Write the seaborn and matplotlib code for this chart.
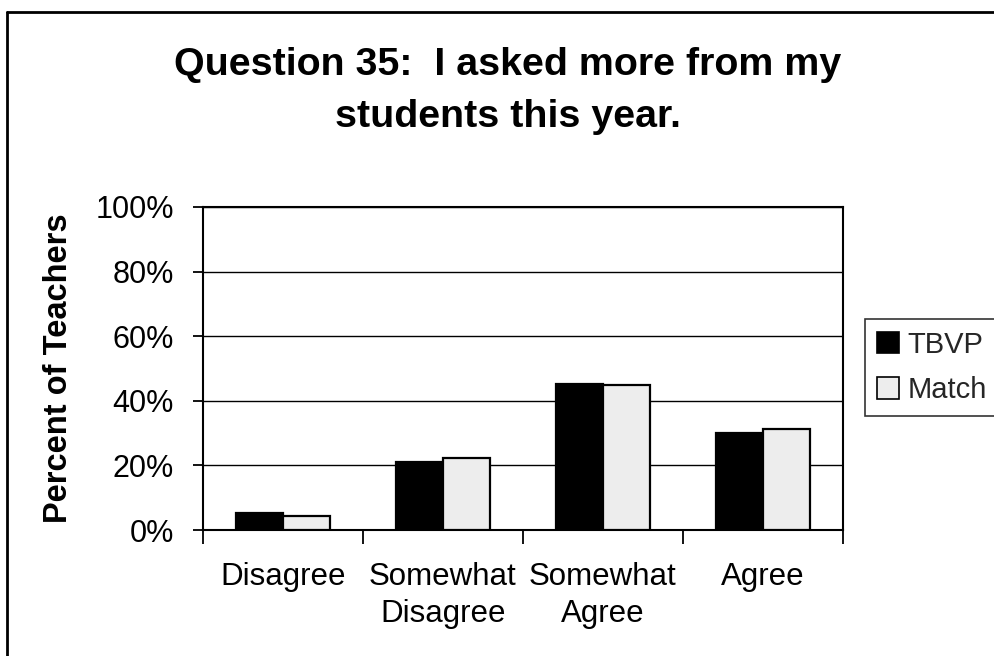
import matplotlib
matplotlib.use("Agg")
import matplotlib.pyplot as plt
from matplotlib.lines import Line2D
from matplotlib.patches import Patch
from matplotlib.ticker import FixedLocator, FuncFormatter
import seaborn as sns
import pandas as pd

categories = ["Disagree", "Somewhat\nDisagree", "Somewhat\nAgree", "Agree"]
groups = ["TBVP", "Match"]
tbvp = [5.4, 20.9, 45.3, 30.1]
match = [4.2, 22.3, 44.8, 31.2]
title_lines = ["Question 35:  I asked more from my", "students this year."]
y_ticks = [0, 20, 40, 60, 80, 100]
y_label = "Percent of Teachers"

df = pd.DataFrame({
    "category": categories * 2,
    "group": [groups[0]] * len(categories) + [groups[1]] * len(categories),
    "value": tbvp + match,
})

sns.set_theme(style="white")
plt.rcParams["font.family"] = ["Liberation Sans", "DejaVu Sans"]

W, H = 995, 656
fig = plt.figure(figsize=(W / 100, H / 100), dpi=100)
ax = fig.add_axes([203 / W, 1 - 530 / H, (843 - 203) / W, (530 - 207) / H])

colors = {"TBVP": "#000000", "Match": "#ededed"}
sns.barplot(data=df, x="category", y="value", hue="group", order=categories,
            hue_order=groups, palette=colors, width=0.59, gap=0,
            edgecolor="black", linewidth=1.6, ax=ax, legend=False, zorder=3)

ax.set_ylim(0, 100)
ax.set_xlim(-0.5, len(categories) - 0.5)
ax.yaxis.set_major_locator(FixedLocator(y_ticks))
ax.yaxis.set_major_formatter(FuncFormatter(lambda v, p: f"{v:.0f}%"))
ax.grid(axis="y", color="black", linewidth=1.0, zorder=0)
ax.set_axisbelow(True)

for s in ax.spines.values():
    s.set_visible(True)
    s.set_color("black")
    s.set_linewidth(1.5)

ax.tick_params(axis="y", which="major", direction="out", length=7, width=1.3,
               color="black", left=True, labelsize=22, pad=14, labelcolor="black")
ax.tick_params(axis="x", which="major", length=0, labelsize=22.5, pad=23,
               labelcolor="black")
ax.set_xticks(range(len(categories)))
ax.set_xticklabels(categories, linespacing=1.3)
ax.set_xticks([i - 0.5 for i in range(len(categories) + 1)], minor=True)
ax.tick_params(axis="x", which="minor", direction="out", length=10, width=1.3,
               color="black", bottom=True)
ax.set_xlabel("")
ax.set_ylabel("")

# axis title
fig.text(59 / W, 1 - 368 / H, y_label, rotation=90, ha="center", va="center",
         fontsize=23.5, fontweight="bold", color="black")

# title, two centred lines
fig.text(508 / W, 1 - 75 / H, title_lines[0], ha="center", va="baseline",
         fontsize=28.4, fontweight="bold", color="black")
fig.text(508 / W, 1 - 127 / H, title_lines[1], ha="center", va="baseline",
         fontsize=28.4, fontweight="bold", color="black")

# legend
handles = [Patch(facecolor=colors[g], edgecolor="black", linewidth=1.2, label=g)
           for g in groups]
leg = fig.legend(handles=handles, loc="upper left",
                 bbox_to_anchor=(865 / W, 1 - 319 / H), fontsize=21,
                 frameon=True, fancybox=False, edgecolor="black",
                 handlelength=0.75, handleheight=0.75, handletextpad=0.3,
                 borderpad=0.4, labelspacing=0.6, borderaxespad=0)
leg.get_frame().set_linewidth(1.2)

# chart area border
fig.add_artist(Line2D([7 / W, 1.0], [1 - 12 / H, 1 - 12 / H], color="black",
                      linewidth=2, transform=fig.transFigure))
fig.add_artist(Line2D([7 / W, 7 / W], [0.0, 1 - 12 / H], color="black",
                      linewidth=2, transform=fig.transFigure))

fig.savefig("out.png", dpi=100, facecolor="white")
